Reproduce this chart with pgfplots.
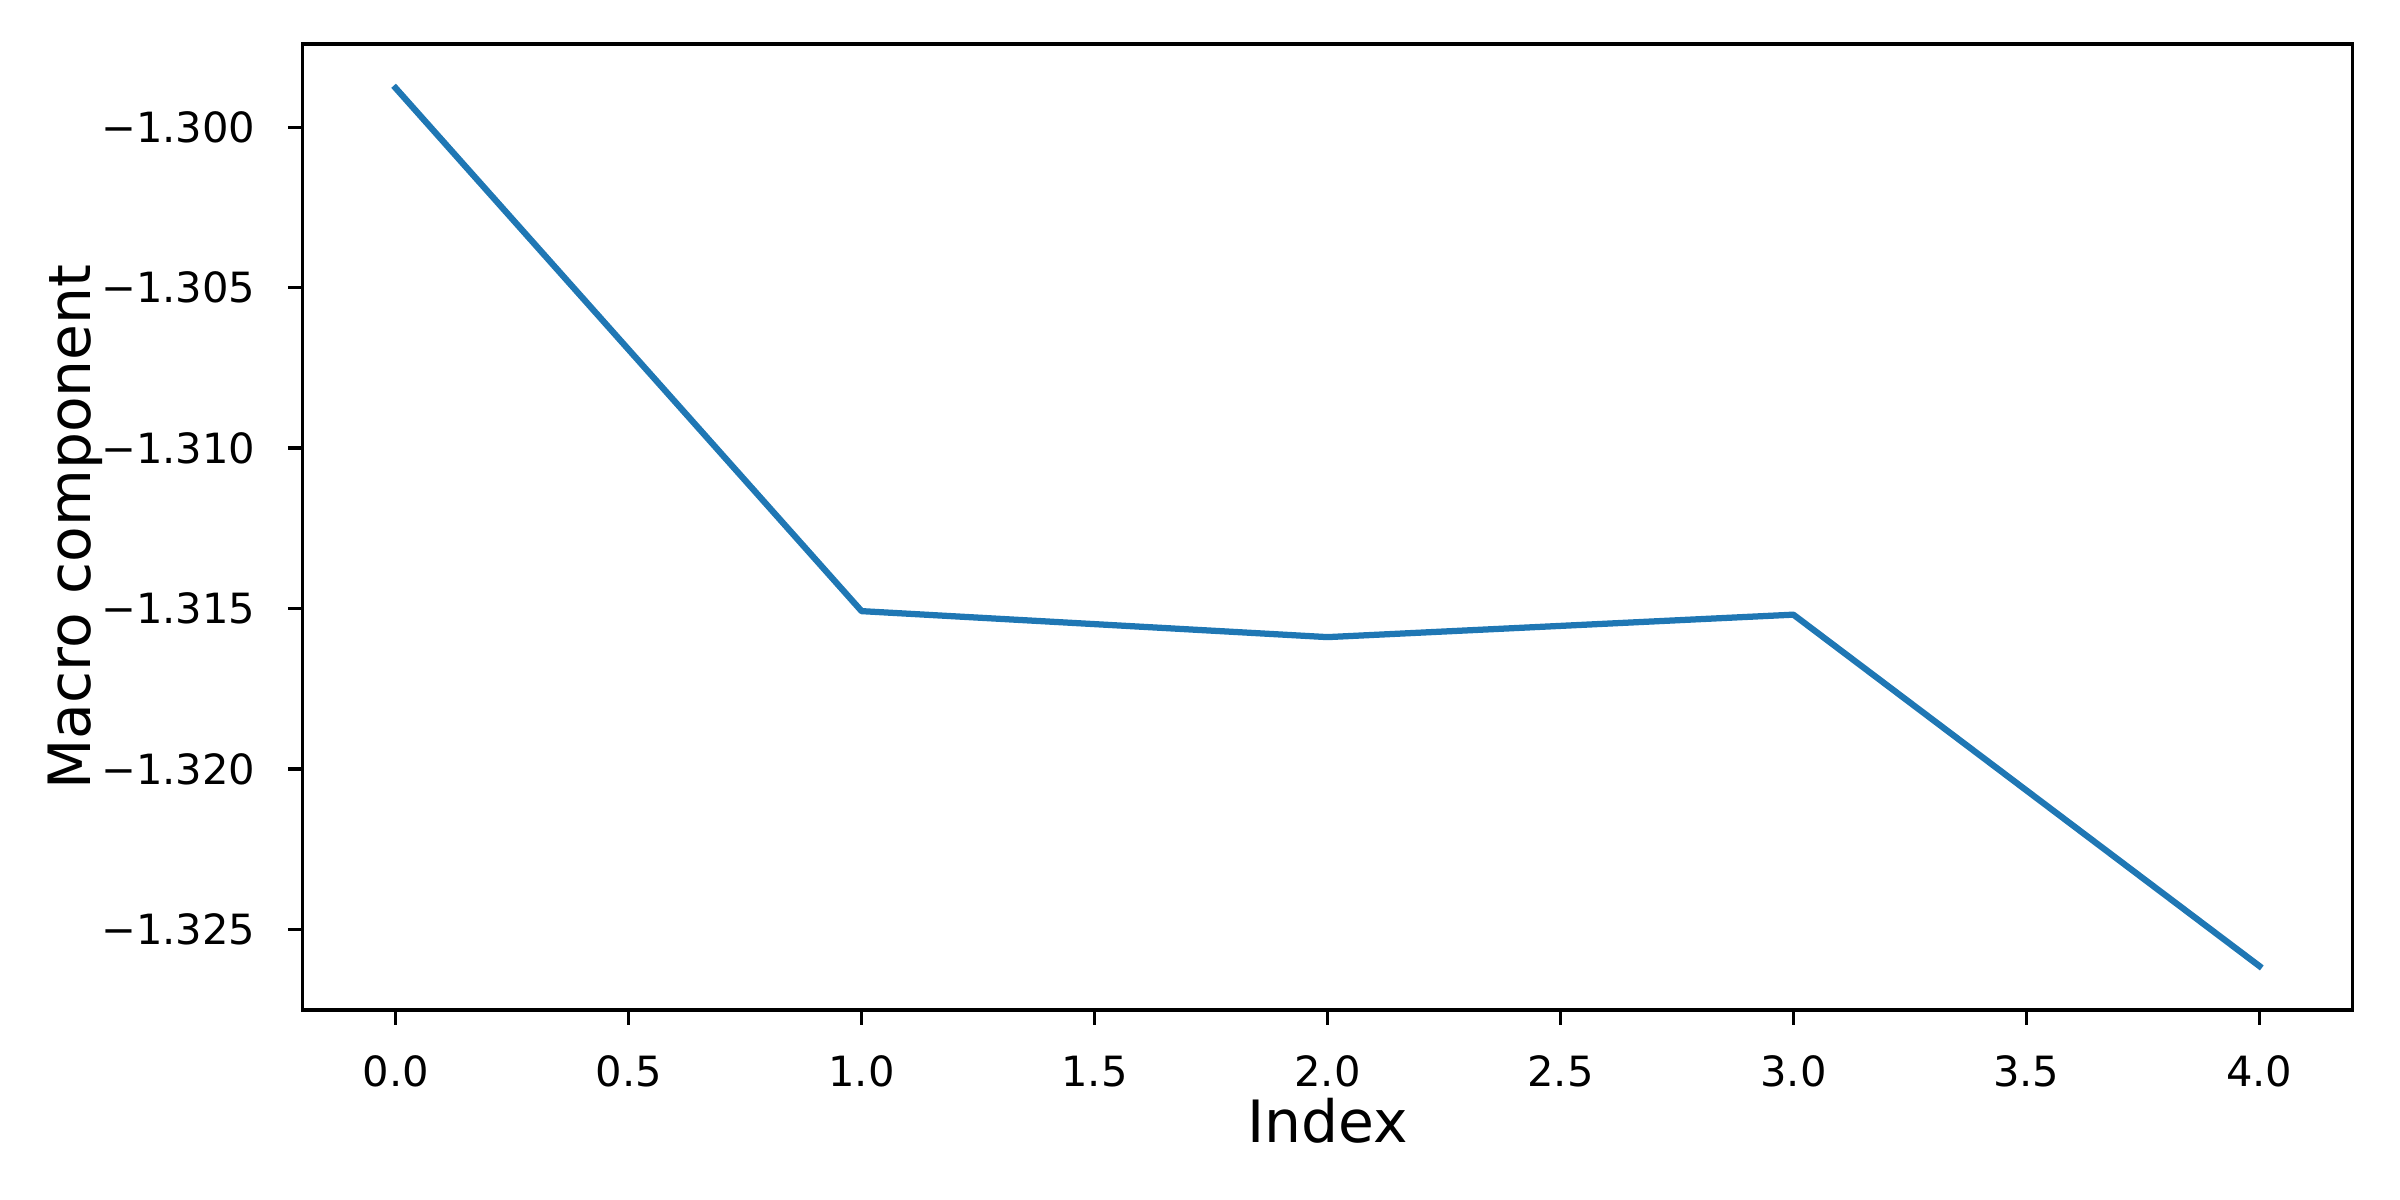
\documentclass[border=0pt]{standalone}
\usepackage{fontspec}
\setmainfont{DejaVu Sans}
\usepackage{pgfplots}
\pgfplotsset{compat=1.18}
\definecolor{mplblue}{HTML}{1F77B4}

\begin{document}
\begin{tikzpicture}
\begin{axis}[
  scale only axis,
  width=492pt,height=231.8pt,
  xmin=-0.2,xmax=4.2,
  ymin=-1.32751,ymax=-1.29741,
  axis line style={line width=0.8pt,black},
  tick align=outside,
  xtick pos=bottom,ytick pos=left,
  major tick length=3.5pt,
  every tick/.style={line width=0.8pt,black},
  xtick={0,0.5,...,4},
  xticklabels={0.0,0.5,1.0,1.5,2.0,2.5,3.0,3.5,4.0},
  ytick={-1.325,-1.320,-1.315,-1.310,-1.305,-1.300},
  yticklabels={−1.325,−1.320,−1.315,−1.310,−1.305,−1.300},
  xticklabel style={font=\fontsize{10}{12}\selectfont,inner sep=0pt,anchor=north,yshift=-7.3pt},
  yticklabel style={font=\fontsize{10}{12}\selectfont,inner sep=0pt,anchor=east,xshift=-7.6pt},
  xlabel={Index},
  ylabel={Macro component},
  xlabel style={font=\fontsize{14}{16}\selectfont,inner sep=0pt,at={(axis description cs:0.5,-0.1377)},anchor=base},
  ylabel style={font=\fontsize{14}{16}\selectfont,inner sep=0pt,at={(axis description cs:-0.1034,0.5)},anchor=base,rotate=0},
]
\addplot[color=mplblue,line width=1.5pt,line join=round,line cap=rect,mark=none] coordinates {
  (0,-1.29878) (1,-1.31508) (2,-1.31589) (3,-1.31519) (4,-1.32614)
};
\end{axis}
\pgfresetboundingbox
\path (current axis.south west) ++(-72.6pt,-45.6pt) rectangle ++(576pt,288pt);
\end{tikzpicture}
\end{document}
